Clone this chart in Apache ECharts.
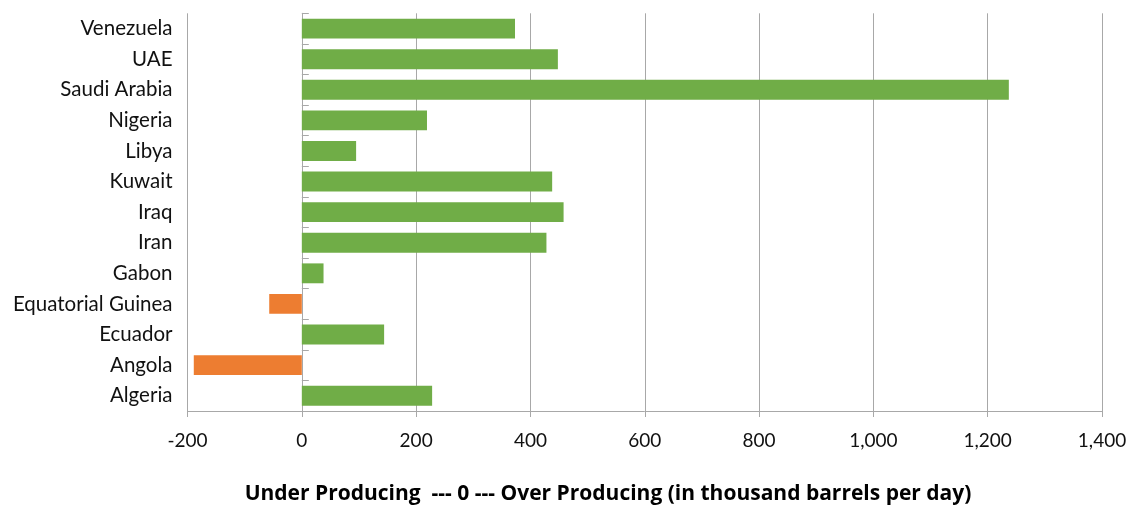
<!DOCTYPE html>
<html>
<head>
<meta charset="utf-8">
<script src="https://cdn.jsdelivr.net/npm/echarts@6/dist/echarts.min.js"></script>
<style>
html,body{margin:0;padding:0;background:#fff;}
#chart{width:1130px;height:506px;}
</style>
</head>
<body>
<div id="chart"></div>
<script>
const categories = ['Algeria','Angola','Ecuador','Equatorial Guinea','Gabon','Iran','Iraq','Kuwait','Libya','Nigeria','Saudi Arabia','UAE','Venezuela'];
const values = [228, -189, 144, -57, 38, 428, 458, 438, 95, 219, 1237, 448, 373];
const xTicks = { min: -200, max: 1400, interval: 200 };
const axisTitle = 'Under Producing  --- 0 --- Over Producing (in thousand barrels per day)';

const GREEN = '#70ad47', ORANGE = '#ed7d31', GRID = '#a8a8a8';
const labelFont = 'Lato, "Open Sans", sans-serif';

const chart = echarts.init(document.getElementById('chart'), null, {renderer:'canvas'});
chart.setOption({
  animation: false,
  grid: { left: 187.5, right: 28, top: 13.3, bottom: 95, containLabel: false },
  xAxis: {
    type: 'value', min: xTicks.min, max: xTicks.max, interval: xTicks.interval,
    axisLine: { show: true, onZero: false, lineStyle: { color: GRID, width: 1 } },
    axisTick: { show: true, length: 6, lineStyle: { color: GRID } },
    splitLine: { show: true, lineStyle: { color: GRID, width: 1 } },
    axisLabel: {
      margin: 20, fontSize: 19, color: '#111', fontFamily: labelFont,
      formatter: v => v.toLocaleString('en-US')
    }
  },
  yAxis: [
    {
      type: 'category', data: categories,
      axisLine: { show: false, onZero: false },
      axisTick: { show: false },
      splitLine: { show: false },
      axisLabel: { margin: 15, fontSize: 20.5, color: '#111', fontFamily: labelFont }
    },
    {
      type: 'category', data: categories, position: 'left',
      axisLine: { show: true, onZero: true, lineStyle: { color: GRID, width: 1 } },
      axisTick: { show: true, inside: true, length: 7, lineStyle: { color: GRID } },
      axisLabel: { show: false },
      splitLine: { show: false }
    }
  ],
  series: [{
    type: 'bar', yAxisIndex: 0,
    data: values.map(v => ({ value: v, itemStyle: { color: v < 0 ? ORANGE : GREEN } })),
    barCategoryGap: '35%'
  }],
  graphic: [{
    type: 'text', z: 10,
    style: {
      text: axisTitle, x: 608, y: 494, align: 'center', verticalAlign: 'middle',
      font: 'bold 21px "Open Sans", sans-serif', fill: '#000'
    }
  }]
});
</script>
</body>
</html>
